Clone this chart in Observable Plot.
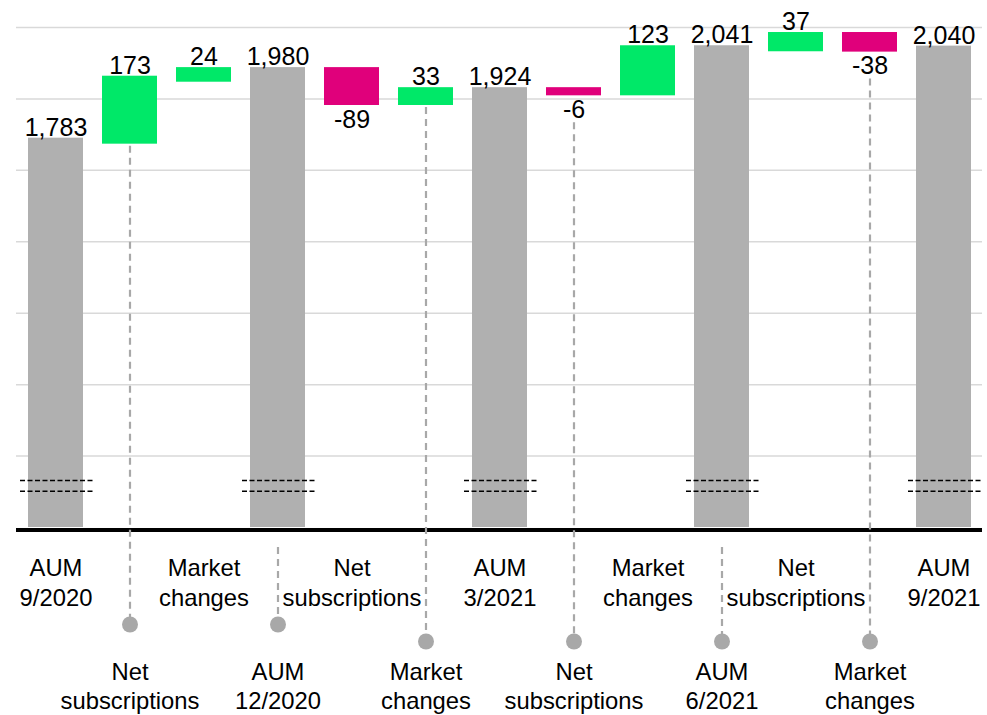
<!DOCTYPE html>
<html><head><meta charset="utf-8">
<script src="https://cdn.jsdelivr.net/npm/d3@7"></script>
<script src="https://cdn.jsdelivr.net/npm/@observablehq/plot@0.6"></script>
<style>
body{margin:0;background:#fff}
#chart{width:987px;height:715px}
</style>
</head><body><div id="chart"></div>
<script>
// ---- data ----
const labels = [
  "AUM\n9/2020", "Net\nsubscriptions", "Market\nchanges", "AUM\n12/2020",
  "Net\nsubscriptions", "Market\nchanges", "AUM\n3/2021", "Net\nsubscriptions",
  "Market\nchanges", "AUM\n6/2021", "Net\nsubscriptions", "Market\nchanges", "AUM\n9/2021"
];
const kinds = ["total","delta","delta","total","delta","delta","total","delta","delta","total","delta","delta","total"];
const values = [1783, 173, 24, 1980, -89, 33, 1924, -6, 123, 2041, 37, -38, 2040];
const yDomain = [696, 2092];   // truncated value axis (broken at the bottom)

// ---- styles ----
const colors = {total: "#b0b0b0", up: "#00e868", down: "#e0007b"};
const leaderColor = "#a8a8a8";
const font = "'Liberation Sans', Arial, Helvetica, sans-serif";

const fmt = d3.formatLocale({decimal: ".", thousands: ",", grouping: [3], currency: ["", ""], minus: "-"}).format(",");

let running = 0;
const rows = values.map((v, i) => {
  let lo, hi;
  if (kinds[i] === "total") { running = v; lo = yDomain[0]; hi = v; }
  else { const s = running; running += v; lo = Math.min(s, running); hi = Math.max(s, running); }
  const type = kinds[i] === "total" ? "total" : (v >= 0 ? "up" : "down");
  return {i, label: labels[i], value: v, lo, hi, type, text: fmt(v), row: i % 2};
});
const totals = rows.filter(d => d.type === "total");
const floats = rows.filter(d => d.type !== "total");
const gridTicks = d3.range(1, 8).map(k => yDomain[0] + k * (yDomain[1] - yDomain[0]) / 7);

const leaderMarks = rows.filter(d => d.row === 1).flatMap(d => {
  const drop = d.i < 4 ? 97 : 114;
  const start = d.type === "total" ? yDomain[0] : d.lo;
  const insetTop = d.type === "total" ? 20 : d.type === "up" ? 8 : 33;
  return [
    Plot.ruleX([d], {x: "i", y1: () => start, y2: () => yDomain[0], insetTop, insetBottom: -drop,
      stroke: leaderColor, strokeWidth: 2.2, strokeDasharray: "7,5"}),
    Plot.dot([d], {x: "i", frameAnchor: "bottom", dy: drop, r: 8, fill: leaderColor})
  ];
});

const chart = Plot.plot({
  width: 987, height: 715,
  marginLeft: 16, marginRight: 5, marginTop: 27, marginBottom: 188,
  style: {fontFamily: font, background: "#fff", color: "#000"},
  x: {type: "band", domain: d3.range(values.length), paddingInner: 0.26, paddingOuter: 0.135, axis: null},
  y: {domain: yDomain, axis: null},
  marks: [
    Plot.gridY(gridTicks, {stroke: "#d9d9d9", strokeOpacity: 1, strokeWidth: 1.5}),
    Plot.barY(totals, {x: "i", y1: "lo", y2: "hi", fill: colors.total}),
    Plot.barY(floats, {x: "i", y1: "lo", y2: "hi", fill: d => colors[d.type], insetBottom: -6}),
    Plot.tickY(totals, {x: "i", y: () => yDomain[0], dy: -47, stroke: "#000", strokeWidth: 1.5,
      strokeDasharray: "5,2.5", insetLeft: -8, insetRight: -11}),
    Plot.tickY(totals, {x: "i", y: () => yDomain[0], dy: -36.3, stroke: "#000", strokeWidth: 1.5,
      strokeDasharray: "5,2.5", insetLeft: -8, insetRight: -11}),
    Plot.ruleY([yDomain[0]], {stroke: "#000", strokeWidth: 4, dy: 2.5}),
    ...leaderMarks,
    Plot.text(rows.filter(d => d.type !== "down"), {x: "i", y: "hi", text: "text",
      lineAnchor: "bottom", dy: -2.5, fontSize: 25, fill: "#000"}),
    Plot.text(rows.filter(d => d.type === "down"), {x: "i", y: "lo", text: "text",
      lineAnchor: "top", dy: 10.5, fontSize: 25, fill: "#000"}),
    Plot.text(rows.filter(d => d.row === 0), {x: "i", text: "label", frameAnchor: "bottom",
      lineAnchor: "top", dy: 28, fontSize: 23.8, lineHeight: 1.24, fill: "#000"}),
    Plot.text(rows.filter(d => d.row === 1), {x: "i", text: "label", frameAnchor: "bottom",
      lineAnchor: "top", dy: 131.5, fontSize: 23.8, lineHeight: 1.24, fill: "#000"})
  ]
});
document.getElementById("chart").appendChild(chart);
</script>
</body></html>
